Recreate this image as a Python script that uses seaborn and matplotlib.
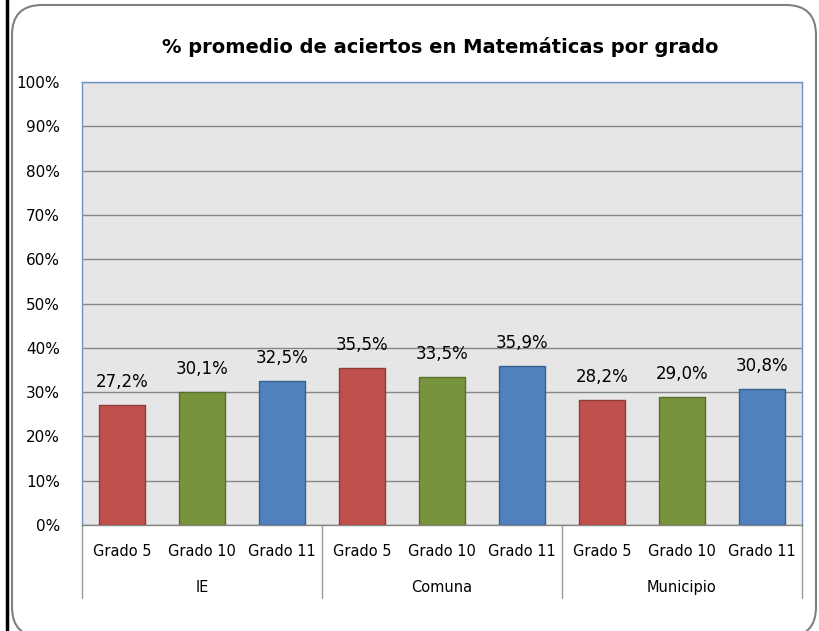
import matplotlib
matplotlib.use("Agg")
import matplotlib.pyplot as plt
import matplotlib.transforms as mtransforms
from matplotlib.patches import FancyBboxPatch
from matplotlib.lines import Line2D
import pandas as pd
import seaborn as sns

# data
groups = ["IE", "Comuna", "Municipio"]
grades = ["Grado 5", "Grado 10", "Grado 11"]
ie_values = [27.2, 30.1, 32.5]
comuna_values = [35.5, 33.5, 35.9]
municipio_values = [28.2, 29.0, 30.8]
grade_colors = ["#C0504D", "#77933C", "#4F81BD"]
edge_colors = ["#8E3B39", "#58702B", "#3A6194"]

rows = []
for g, vals in zip(groups, [ie_values, comuna_values, municipio_values]):
    for gr, v in zip(grades, vals):
        rows.append({"group": g, "grade": gr, "value": v, "slot": f"{g}|{gr}"})
df = pd.DataFrame(rows)
order = list(df["slot"])

sns.set_style("white")
plt.rcParams["font.family"] = ["DejaVu Sans"]
plt.rcParams["text.color"] = "black"
plt.rcParams["xtick.color"] = "black"
plt.rcParams["ytick.color"] = "black"

fig = plt.figure(figsize=(8.19, 6.31), dpi=100)
ax = fig.add_axes([82 / 819, 1 - 525 / 631, 720 / 819, 443 / 631])

sns.barplot(data=df, x="slot", y="value", hue="grade", order=order,
            hue_order=grades, palette=grade_colors, dodge=False,
            saturation=1, width=0.58, ax=ax, legend=False, zorder=3)

for cont, ec in zip(ax.containers, edge_colors):
    for bar in cont:
        bar.set_edgecolor(ec)
        bar.set_linewidth(1.0)
    labels = [f"{v:.1f}%".replace(".", ",") for v in cont.datavalues]
    ax.bar_label(cont, labels=labels, padding=10, fontsize=12, color="black")

ax.set_facecolor("#E6E6E6")
ax.set_ylim(0, 100)
ax.set_xlim(-0.5, len(order) - 0.5)
ax.set_yticks(range(0, 101, 10))
ax.set_yticklabels([f"{t}%" for t in range(0, 101, 10)], fontsize=11)
ax.yaxis.grid(True, color="#868686", linewidth=1.0, zorder=0)
ax.set_axisbelow(True)
ax.tick_params(axis="y", length=0, pad=16)
ax.set_xticks(range(len(order)))
ax.set_xticklabels([s.split("|")[1] for s in order], fontsize=10.5)
ax.tick_params(axis="x", length=0, pad=14)
ax.set_xlabel("")
ax.set_ylabel("")

for side in ["left", "top", "right"]:
    ax.spines[side].set_color("#6D93C9")
    ax.spines[side].set_linewidth(1.0)
ax.spines["bottom"].set_color("#868686")
ax.spines["bottom"].set_linewidth(1.0)

# group separators and labels under the axis
trans = mtransforms.blended_transform_factory(ax.transData, ax.transAxes)
sep_bottom = -(598 - 525) / 443
for x in [-0.5, 2.5, 5.5, 8.5]:
    ax.add_line(Line2D([x, x], [0, sep_bottom], transform=trans,
                       color="#9A9A9A", linewidth=1.0, clip_on=False))
for i, g in enumerate(groups):
    ax.text(i * 3 + 1, -(592 - 525) / 443, g, transform=trans,
            ha="center", va="baseline", fontsize=10.5)

fig.text(440 / 819, 1 - 47 / 631, "% promedio de aciertos en Matemáticas por grado",
         ha="center", va="center", fontsize=14, fontweight="bold")

# chart frame, drawn in pixel units
frame = FancyBboxPatch((12, -6), 804, 632,
                       boxstyle="round,pad=0,rounding_size=30",
                       transform=mtransforms.IdentityTransform(),
                       facecolor="none", edgecolor="#808080", linewidth=1.5)
fig.patches.append(frame)
fig.add_artist(Line2D([7 / 819, 7 / 819], [0, 1], transform=fig.transFigure,
                      color="black", linewidth=2.5))

fig.savefig("out.png", dpi=100)
